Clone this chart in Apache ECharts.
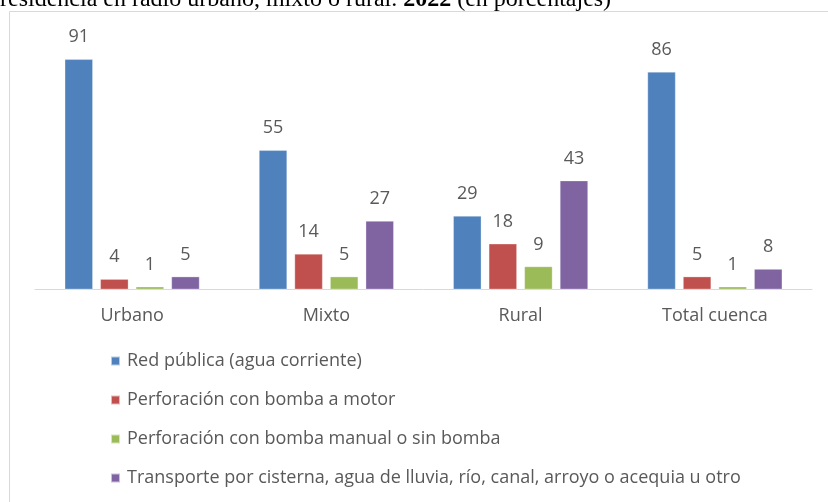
<!DOCTYPE html>
<html>
<head>
<meta charset="utf-8">
<script src="https://cdn.jsdelivr.net/npm/echarts@6/dist/echarts.min.js"></script>
<style>
  html, body { margin: 0; padding: 0; background: #ffffff; }
  #chart { width: 828px; height: 502px; }
</style>
</head>
<body>
<div id="chart"></div>
<script>
// Categories (type of residence area)
const categories = ['Urbano', 'Mixto', 'Rural', 'Total cuenca'];

// Series names (water source)
const seriesNames = [
  'Red pública (agua corriente)',
  'Perforación con bomba a motor',
  'Perforación con bomba manual o sin bomba',
  'Transporte por cisterna, agua de lluvia, río, canal, arroyo o acequia u otro'
];

// Percentages per series, in category order
const redPublica = [91, 55, 29, 86];
const bombaMotor = [4, 14, 18, 5];
const bombaManual = [1, 5, 9, 1];
const transporte = [5, 27, 43, 8];

const seriesValues = [redPublica, bombaMotor, bombaManual, transporte];
const colors = ['#4f81bd', '#c0504d', '#9bbb59', '#8064a2'];

const chart = echarts.init(document.getElementById('chart'), null, { renderer: 'canvas' });

const series = seriesNames.map((name, i) => ({
  name: name,
  type: 'bar',
  data: seriesValues[i],
  barWidth: 28,
  barGap: '27%',
  itemStyle: { color: colors[i], borderColor: 'rgba(255,255,255,0.6)', borderWidth: 0.5 },
  label: {
    show: true,
    position: 'top',
    distance: 13,
    color: '#595959',
    fontFamily: 'Open Sans',
    fontSize: 18
  }
}));

chart.setOption({
  animation: false,
  backgroundColor: '#ffffff',
  graphic: [
    {
      type: 'rect',
      shape: { x: 9.5, y: 11.5, width: 900, height: 600 },
      style: { fill: 'none', stroke: '#d9d9d9', lineWidth: 1 },
      silent: true
    },
    {
      type: 'text',
      left: 0,
      top: -12,
      style: {
        text: '{n|residencia en radio urbano, mixto o rural. }{b|2022}{n| (en porcentajes)}',
        rich: {
          n: { fontFamily: 'Liberation Serif', fontSize: 24, fill: '#000000' },
          b: { fontFamily: 'Liberation Serif', fontSize: 24, fontWeight: 'bold', fill: '#000000' }
        }
      }
    }
  ],
  legend: {
    orient: 'vertical',
    left: 105,
    top: 345,
    itemWidth: 9,
    itemHeight: 9,
    itemGap: 17,
    icon: 'rect',
    textStyle: { color: '#595959', fontFamily: 'Open Sans', fontSize: 18, lineHeight: 22, padding: [0, 0, 0, 2] },
    data: seriesNames
  },
  grid: { left: 35, right: 16, top: 36.6, bottom: 212.7, containLabel: false },
  xAxis: {
    type: 'category',
    data: categories,
    axisLine: { lineStyle: { color: '#d9d9d9', width: 1 } },
    axisTick: { show: false },
    axisLabel: { color: '#595959', fontFamily: 'Open Sans', fontSize: 18, margin: 18 }
  },
  yAxis: {
    type: 'value',
    min: 0,
    max: 100,
    show: false,
    splitLine: { show: false }
  },
  series: series
});
</script>
</body>
</html>
